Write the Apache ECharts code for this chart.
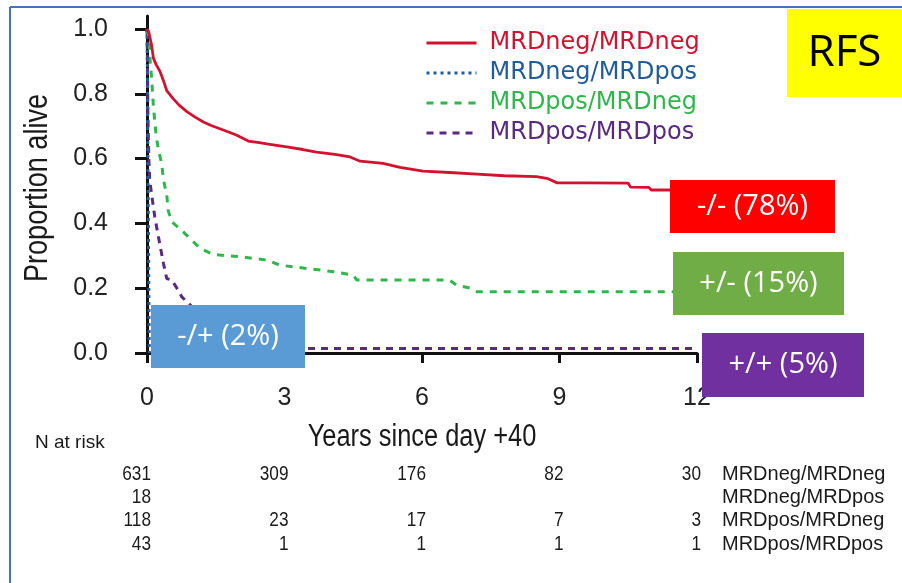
<!DOCTYPE html>
<html>
<head>
<meta charset="utf-8">
<script src="https://cdn.jsdelivr.net/npm/echarts@6/dist/echarts.min.js"></script>
<style>
  html, body { margin: 0; padding: 0; background: #ffffff; }
  #chart { width: 902px; height: 583px; }
</style>
</head>
<body>
<div id="chart"></div>
<script>
// Relapse-free survival by MRD status (Kaplan–Meier estimates)

// Axis ticks
const xTicks = [0, 3, 6, 9, 12];
const yTicks = [0, 0.2, 0.4, 0.6, 0.8, 1.0];

// MRDneg/MRDneg
const tNegNeg = [0, 0.04, 0.1, 0.14, 0.2, 0.28, 0.36, 0.43, 0.57, 0.7, 0.87, 1.05, 1.23, 1.4, 1.59, 1.78, 1.96, 2.1, 2.21, 2.45, 2.68, 3.05, 3.4, 3.7, 4.1, 4.43, 4.65, 5.15, 5.52, 6.02, 6.6, 7.2, 7.8, 8.5, 8.75, 8.95, 9.6, 10.5, 10.55, 10.95, 11.0, 11.6];
const pNegNeg = [1.0, 0.99, 0.95, 0.91, 0.89, 0.87, 0.84, 0.81, 0.785, 0.765, 0.745, 0.728, 0.713, 0.702, 0.692, 0.682, 0.672, 0.662, 0.654, 0.649, 0.644, 0.636, 0.628, 0.62, 0.613, 0.605, 0.592, 0.585, 0.573, 0.561, 0.557, 0.552, 0.547, 0.544, 0.538, 0.525, 0.525, 0.524, 0.512, 0.511, 0.503, 0.503];

// MRDneg/MRDpos
const tNegPos = [0, 0.01, 0.02, 0.03, 0.04, 0.05];
const pNegPos = [1.0, 0.85, 0.6, 0.4, 0.2, 0.0];

// MRDpos/MRDneg
const tPosNeg = [0, 0.04, 0.07, 0.1, 0.14, 0.2, 0.25, 0.32, 0.36, 0.43, 0.46, 0.54, 0.79, 1.0, 1.16, 1.45, 2.03, 2.61, 2.9, 3.48, 4.07, 4.5, 4.58, 6.6, 6.75, 7.05, 7.2, 11.5];
const pPosNeg = [1.0, 0.975, 0.9, 0.85, 0.76, 0.67, 0.626, 0.585, 0.533, 0.49, 0.441, 0.405, 0.374, 0.345, 0.323, 0.304, 0.297, 0.287, 0.271, 0.261, 0.251, 0.24, 0.225, 0.225, 0.21, 0.2, 0.189, 0.189];

// MRDpos/MRDpos
const tPosPos = [0, 0.01, 0.02, 0.04, 0.06, 0.1, 0.17, 0.25, 0.36, 0.43, 0.54, 0.68, 0.76, 1.0, 1.4, 2.0, 2.6, 3.2, 12.0];
const pPosPos = [1.0, 0.9, 0.73, 0.6, 0.533, 0.49, 0.42, 0.358, 0.276, 0.23, 0.225, 0.194, 0.173, 0.14, 0.093, 0.07, 0.047, 0.014, 0.014];

// Numbers at risk at each x tick
const riskNegNeg = [631, 309, 176, 82, 30];
const riskNegPos = [18, null, null, null, null];
const riskPosNeg = [118, 23, 17, 7, 3];
const riskPosPos = [43, 1, 1, 1, 1];

const groupNames = ['MRDneg/MRDneg', 'MRDneg/MRDpos', 'MRDpos/MRDneg', 'MRDpos/MRDpos'];
const groupColors = ['#D2122E', '#1F5C99', '#2EB84B', '#5A2A82'];

const pairs = (t, p) => t.map((v, i) => [v, p[i]]);

const SANS = "'Liberation Sans', Arial, sans-serif";
const OPEN = "'Open Sans', 'Liberation Sans', sans-serif";
const CONDENSED = 0.82; // horizontal squeeze for the condensed lettering

const chart = echarts.init(document.getElementById('chart'));

const lineSeries = (idx, t, p, width, dash) => ({
  name: groupNames[idx],
  type: 'line',
  data: pairs(t, p),
  showSymbol: false,
  symbol: 'none',
  animation: false,
  z: 5 - idx,
  lineStyle: { color: groupColors[idx], width: width, type: dash },
  itemStyle: { color: groupColors[idx] }
});

const option = {
  backgroundColor: '#ffffff',
  animation: false,
  grid: { left: 147, right: 205, top: 16, bottom: 230 },
  legend: {
    left: 420,
    top: 26,
    orient: 'vertical',
    itemWidth: 50,
    itemHeight: 14,
    itemGap: 6,
    selectedMode: false,
    itemStyle: { opacity: 0 },
    lineStyle: { width: 3 },
    textStyle: { fontFamily: "'DejaVu Sans', sans-serif", fontSize: 24, lineHeight: 22, padding: [0, 0, 0, 8] },
    data: groupNames.map((n, i) => ({ name: n, textStyle: { color: groupColors[i] } }))
  },
  xAxis: {
    type: 'value',
    min: 0,
    max: 12,
    interval: 3,
    offset: 17,
    axisLine: { lineStyle: { color: '#111111', width: 3 } },
    axisTick: { length: 10, lineStyle: { color: '#111111', width: 3 }, customValues: xTicks },
    axisLabel: { fontFamily: SANS, fontSize: 25, color: '#222222', margin: 16, customValues: xTicks },
    splitLine: { show: false }
  },
  yAxis: {
    type: 'value',
    min: 0,
    max: 1.04,
    interval: 0.2,
    offset: 21,
    axisLine: { show: true, lineStyle: { color: '#111111', width: 3 } },
    axisTick: { show: true, length: 12, lineStyle: { color: '#111111', width: 3 }, customValues: yTicks },
    axisLabel: { fontFamily: SANS, fontSize: 25, color: '#222222', margin: 18, customValues: yTicks, formatter: v => v.toFixed(1) },
    splitLine: { show: false }
  },
  series: [
    lineSeries(1, tNegPos, pNegPos, 3, [3, 4]),
    lineSeries(3, tPosPos, pPosPos, 3, [7, 6]),
    lineSeries(2, tPosNeg, pPosNeg, 3, [7, 7]),
    lineSeries(0, tNegNeg, pNegNeg, 2.8, 'solid')
  ]
};

chart.setOption(option);

// Annotation boxes, frame, axis titles and the numbers-at-risk table
const box = (x, y, w, h, fill, text, font, color) => ({
  type: 'group',
  z: 100,
  children: [
    { type: 'rect', shape: { x: x, y: y, width: w, height: h }, style: { fill: fill }, z: 100 },
    { type: 'text', x: x + w / 2, y: y + h / 2, z: 101,
      style: { text: text, fill: color, font: font, align: 'center', verticalAlign: 'middle' } }
  ]
});

const condensedText = (text, x, y, size, align, rotation) => ({
  type: 'text', x: x, y: y, z: 50, rotation: rotation || 0, scaleX: CONDENSED,
  style: { text: text, fill: '#1a1a1a', font: size + 'px ' + SANS, align: align, verticalAlign: 'middle' }
});

const tickPx = xTicks.map(t => chart.convertToPixel({ xAxisIndex: 0 }, t));
const xMid = (tickPx[0] + tickPx[tickPx.length - 1]) / 2;

const graphics = [
  { type: 'line', z: 90, shape: { x1: 10, y1: 7, x2: 902, y2: 7 }, style: { stroke: '#4472C4', lineWidth: 2 } },
  { type: 'line', z: 90, shape: { x1: 10, y1: 7, x2: 10, y2: 583 }, style: { stroke: '#4472C4', lineWidth: 2 } },
  box(787, 9, 115, 88, '#FFFF00', 'RFS', '44px ' + OPEN, '#000000'),
  box(670, 180, 165, 53, '#FF0000', '-/- (78%)', '29px ' + OPEN, '#ffffff'),
  box(673, 252, 171, 63, '#70AD47', '+/- (15%)', '29px ' + OPEN, '#ffffff'),
  box(702, 333, 162, 64, '#7030A0', '+/+ (5%)', '29px ' + OPEN, '#ffffff'),
  box(151, 305, 154, 63, '#5B9BD5', '-/+ (2%)', '29px ' + OPEN, '#ffffff'),
  condensedText('Years since day +40', xMid, 437, 31, 'center'),
  condensedText('Proportion alive', 38, 188, 33, 'center', Math.PI / 2),
  { type: 'text', x: 35, y: 443, z: 50,
    style: { text: 'N at risk', fill: '#1a1a1a', font: '19px ' + SANS, align: 'left', verticalAlign: 'middle' } }
];

const riskRows = [riskNegNeg, riskNegPos, riskPosNeg, riskPosPos];
const rowY = [474, 497, 520, 544];

riskRows.forEach((row, r) => {
  row.forEach((n, c) => {
    if (n === null) return;
    graphics.push(condensedText(String(n), tickPx[c] + 4, rowY[r], 21, 'right'));
  });
  graphics.push({ type: 'text', x: tickPx[xTicks.length - 1] + 25, y: rowY[r], z: 50,
    style: { text: groupNames[r], fill: '#1a1a1a', font: '20px ' + SANS, align: 'left', verticalAlign: 'middle' } });
});

chart.setOption({ graphic: graphics });
</script>
</body>
</html>
